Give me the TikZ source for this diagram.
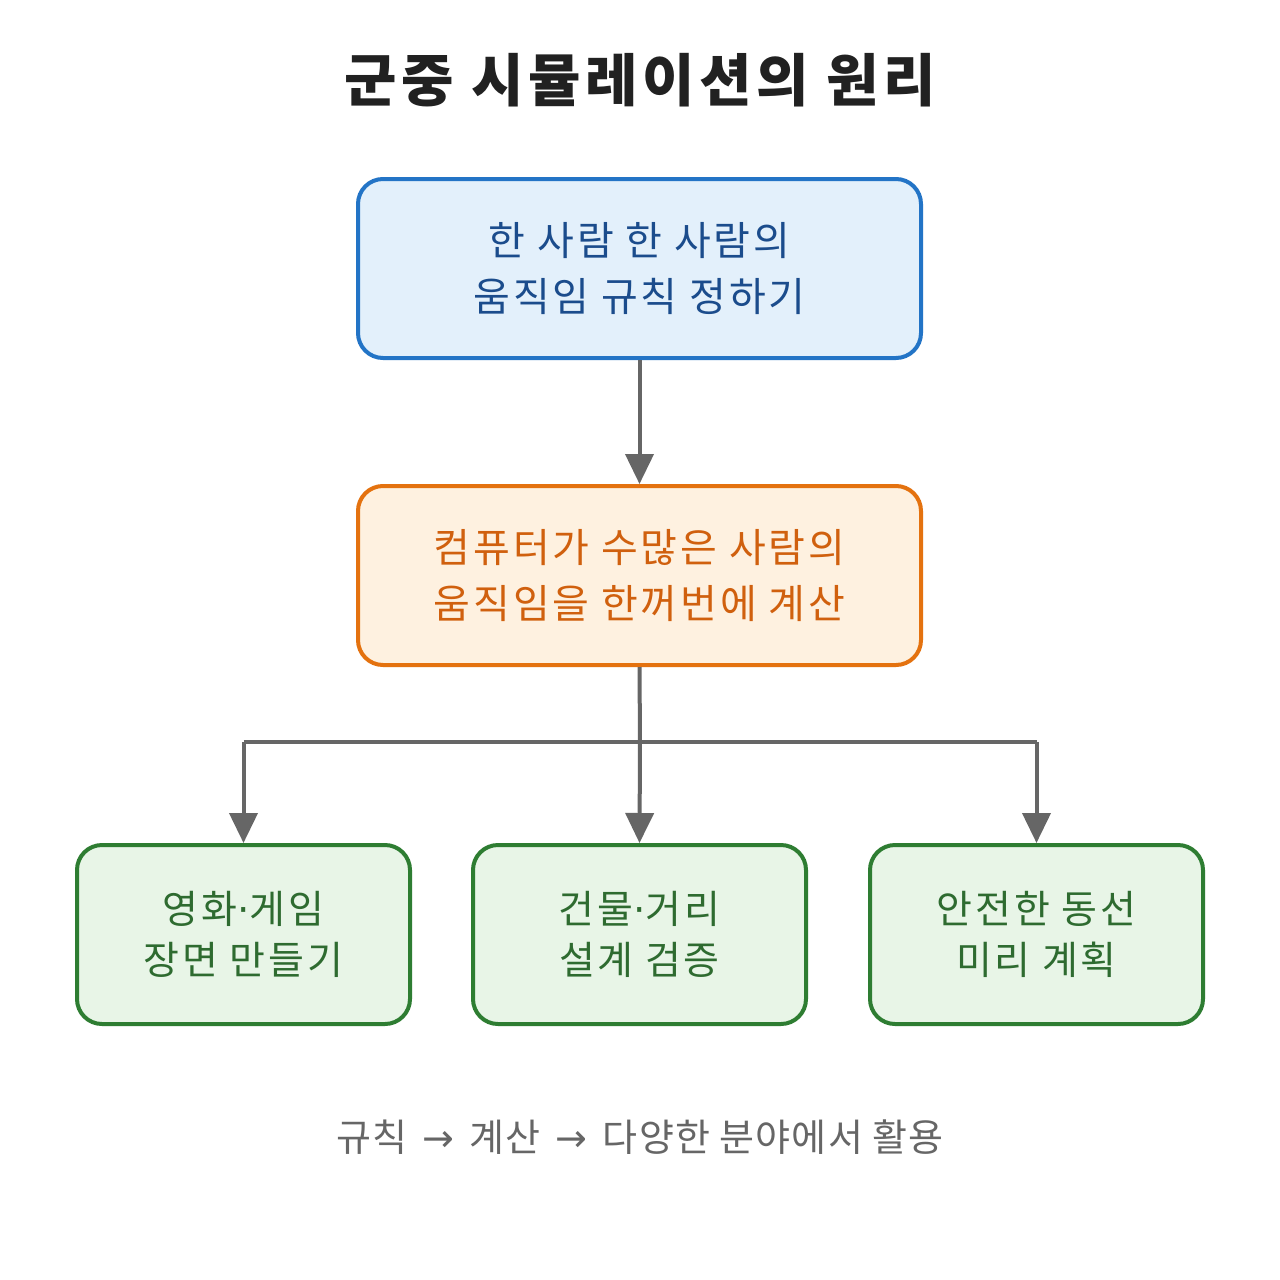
\documentclass[tikz,border=0pt]{standalone}
\usepackage{fontspec}
\setmainfont{Noto Sans CJK KR}
\newfontfamily\krwide{Noto Sans CJK KR}[LetterSpace=7]
\newfontfamily\krtitle{Noto Sans CJK KR}[LetterSpace=8]
\newfontfamily\krfoot{Noto Sans CJK KR}[LetterSpace=3]
\newfontfamily\symfont{DejaVu Sans}
\newcommand{\mdot}{{\symfont ·}}
\newcommand{\rarr}{\hspace{0.4em}{\symfont\fontsize{19}{24}\selectfont →}\hspace{0.4em}}
\usetikzlibrary{arrows.meta,positioning}
\definecolor{bluebd}{HTML}{2374C6}
\definecolor{bluefill}{HTML}{E3F0FB}
\definecolor{bluetxt}{HTML}{1B4C8C}
\definecolor{orbd}{HTML}{E4720F}
\definecolor{orfill}{HTML}{FEF1E0}
\definecolor{ortxt}{HTML}{D0600E}
\definecolor{grbd}{HTML}{2E7D32}
\definecolor{grfill}{HTML}{E8F5E7}
\definecolor{grtxt}{HTML}{2E6B30}
\definecolor{linegray}{HTML}{666666}
\begin{document}
\begin{tikzpicture}[x=0.5pt,y=-0.5pt,
  box/.style={rounded corners=12.5pt,line width=2pt,align=center,
    font=\krwide\fontsize{20}{28}\selectfont,inner sep=0pt},
  bluebox/.style={box,draw=bluebd,fill=bluefill,text=bluetxt,
    minimum width=281.5pt,minimum height=89.5pt},
  orbox/.style={box,draw=orbd,fill=orfill,text=ortxt,
    minimum width=281.5pt,minimum height=89.5pt},
  grbox/.style={box,draw=grbd,fill=grfill,text=grtxt,
    minimum width=166.5pt,minimum height=89.5pt,
    font=\krwide\fontsize{19.5}{25.5}\selectfont},
  conn/.style={draw=linegray,line width=2pt},
  arr/.style={conn,-{Triangle[length=15pt,width=14pt]}}]
\useasboundingbox (0,0) rectangle (1280,1280);
\fill[white] (0,0) rectangle (1280,1280);

\node[font=\krtitle\fontsize{28.5}{34}\selectfont\bfseries,text=black!87] (title) at (640,80) {군중 시뮬레이션의 원리};

\node[bluebox] (rule) at (639.5,268.5) {한 사람 한 사람의\\움직임 규칙 정하기};
\node[orbox] (calc) at (639.5,575.5) {컴퓨터가 수많은 사람의\\움직임을 한꺼번에 계산};

\node[grbox] (film) at (243.5,934.5) {영화\mdot 게임\\장면 만들기};
\node[grbox] (build) at (639.5,934.5) {건물\mdot 거리\\설계 검증};
\node[grbox] (safe) at (1036.5,934.5) {안전한 동선\\미리 계획};

\draw[arr] (rule.south) -- (calc.north);

\coordinate (split) at (640,742);
\draw[conn] (calc.south) -- (split);
\draw[conn] (film.north |- split) -- (safe.north |- split);
\draw[arr] (film.north |- split) -- (film.north);
\draw[arr] (split) -- (build.north);
\draw[arr] (safe.north |- split) -- (safe.north);

\node[font=\krfoot\fontsize{19}{24}\selectfont,text=linegray] (foot) at (640,1137) {규칙\rarr 계산\rarr 다양한 분야에서 활용};
\end{tikzpicture}
\end{document}
